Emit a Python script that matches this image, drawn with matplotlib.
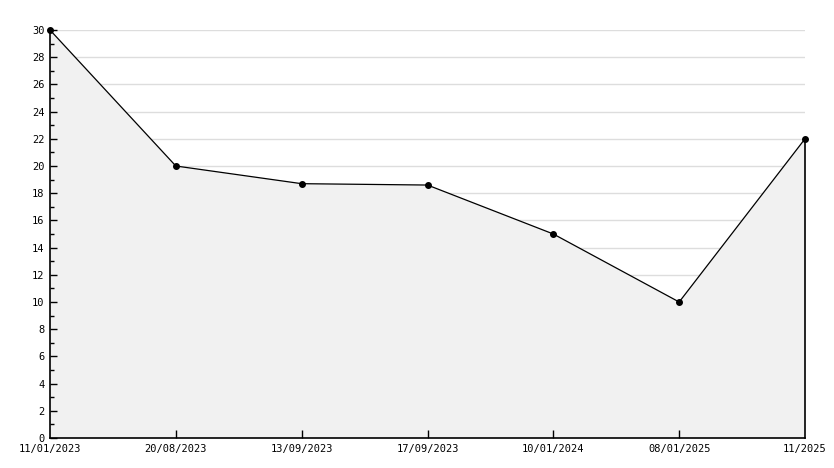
import matplotlib
matplotlib.use("Agg")
import matplotlib.pyplot as plt
from matplotlib.ticker import MultipleLocator

# Data
dates = ["11/01/2023", "20/08/2023", "13/09/2023", "17/09/2023",
         "10/01/2024", "08/01/2025", "11/2025"]
values = [30, 20, 18.7, 18.6, 15, 10, 22]

x = list(range(len(dates)))

plt.rcParams['font.family'] = ['DejaVu Sans Mono']

fig = plt.figure(figsize=(8.34, 4.68), dpi=100)
ax = fig.add_axes([50 / 834, 30 / 468, 755 / 834, 408 / 468])

ax.set_xlim(x[0], x[-1])
ax.set_ylim(0, 30)

ax.yaxis.set_major_locator(MultipleLocator(2))
ax.yaxis.set_minor_locator(MultipleLocator(1))

# grid lines behind the fill, axis ticks in front of it
for yv in ax.get_yticks():
    if 0 < yv <= 30:
        ax.axhline(yv, color='#dddddd', linewidth=1, zorder=0.5)

# Filled area under the line, black edge on the right side
ax.fill_between(x, values, 0, facecolor='#f1f1f1', edgecolor='none', zorder=1)
ax.plot([x[-1], x[-1]], [0, values[-1]], color='black', linewidth=1.2,
        zorder=3, clip_on=False)
ax.plot(x, values, color='black', linewidth=0.9, marker='o', markersize=4,
        zorder=4, clip_on=False)

ax.set_xticks(x)
ax.set_xticklabels(dates, fontsize=7.5)
ax.tick_params(axis='x', direction='in', length=6, width=1, pad=4)
xticks = ax.xaxis.get_major_ticks()
for t in (xticks[0], xticks[-1]):
    t.tick1line.set_visible(False)

ax.tick_params(axis='y', which='major', direction='in', length=5, width=1, labelsize=7.5, pad=4)
ax.tick_params(axis='y', which='minor', direction='in', length=3, width=1)

ax.set_axisbelow(False)

for side in ['top', 'right']:
    ax.spines[side].set_visible(False)
ax.spines['left'].set_linewidth(1.2)
ax.spines['bottom'].set_linewidth(1.2)
ax.spines['left'].set_zorder(5)
ax.spines['bottom'].set_zorder(5)

plt.savefig("out.png", dpi=100)
plt.close()
